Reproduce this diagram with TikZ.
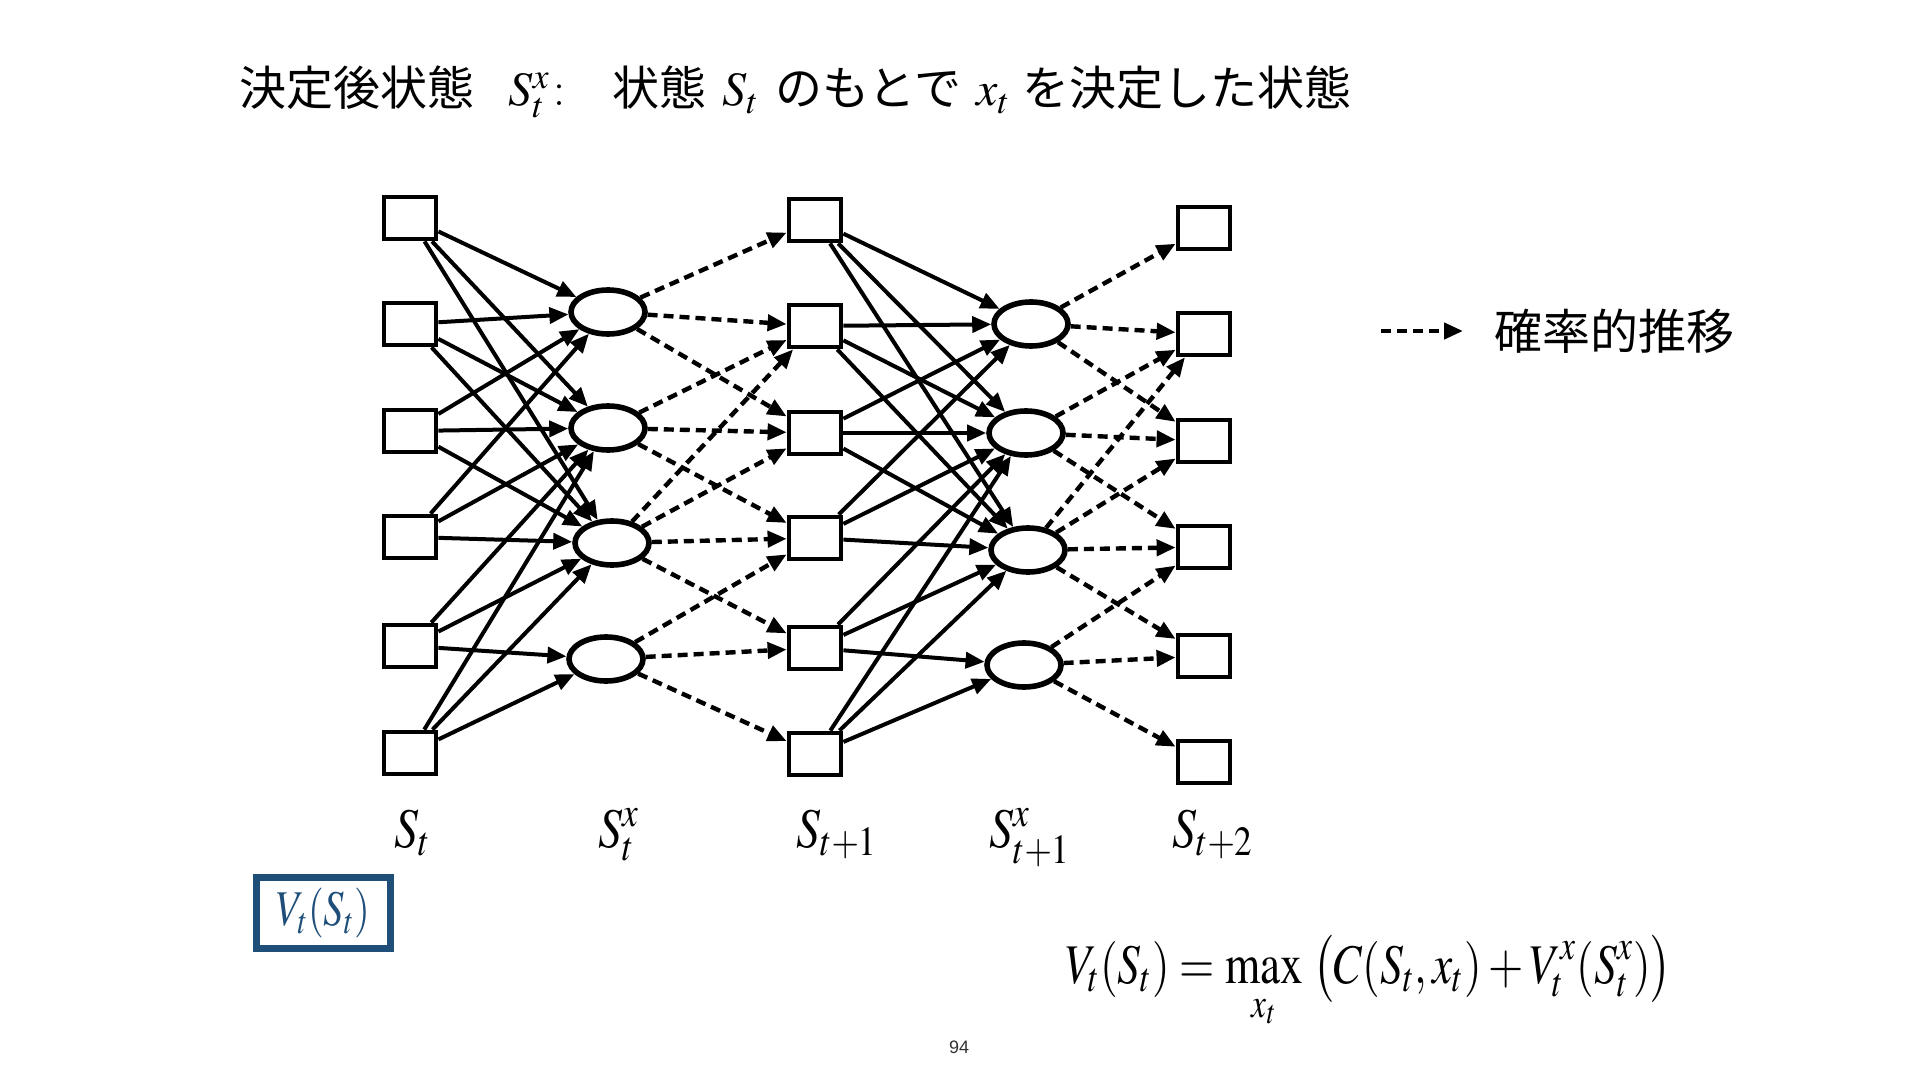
\documentclass[tikz,border=0pt]{standalone}
\usepackage{mathptmx}
\usepackage[no-math]{fontspec}
\newfontfamily\jp{Noto Sans CJK JP}
\newfontfamily\pgnum{Liberation Sans}
\usetikzlibrary{arrows.meta,shapes.geometric}
\definecolor{vblue}{RGB}{31,78,121}
\tikzset{
  sq/.style={draw, line width=2.4pt, minimum width=26pt, minimum height=21pt, inner sep=0pt},
  el/.style={draw, ellipse, line width=2.8pt, minimum width=37pt, minimum height=22pt, inner sep=0pt},
  sarr/.style={line width=2pt, -{Triangle[length=9.5pt,width=8pt]}},
  darr/.style={line width=2.2pt, dash pattern=on 5pt off 3pt, -{Triangle[length=9.5pt,width=8pt]}},
  jptext/.style={font=\jp\fontsize{23.5}{28}\selectfont, inner sep=0pt, anchor=base west},
  mtitle/.style={font=\fontsize{24}{28}\selectfont, inner sep=0pt, anchor=base west},
  lab/.style={font=\fontsize{28}{32}\selectfont, inner sep=0pt, anchor=base west},
}
\newcommand{\myNarrowA}[1]{\scalebox{0.85}[1]{#1}}
\newcommand{\myNarrowB}[1]{\scalebox{0.81}[1]{#1}}
\begin{document}
\begin{tikzpicture}[x=0.5pt,y=-0.5pt]
\useasboundingbox[fill=white] (0,0) rectangle (1920,1080);

% title
\node[jptext] (t1) at (239,106) {決定後状態};
\node[mtitle] (t2) at (508,106) {$S_t^x$\hspace{2pt}:};
\node[jptext] (t3) at (612,106) {状態};
\node[mtitle] (t4) at (722,106) {$S_t$};
\node[jptext] (t5) at (775,106) {のもとで};
\node[mtitle] (t6) at (976,106) {$x_t$};
\node[jptext] (t7) at (1022,106) {を決定した状態};

% column A (S_t)
\foreach \i/\y in {1/218,2/324,3/431,4/537,5/646,6/753}
  \node[sq] (A\i) at (410,\y) {};
% column B (S_t^x)
\node[el] (B1) at (608,312) {};
\node[el] (B2) at (608,428) {};
\node[el] (B3) at (612,543) {};
\node[el] (B4) at (606,659) {};
% column C (S_{t+1})
\foreach \i/\y in {1/220,2/326,3/433,4/538,5/648,6/754}
  \node[sq] (C\i) at (815,\y) {};
% column D (S_{t+1}^x)
\node[el] (D1) at (1031,324) {};
\node[el] (D2) at (1026,433) {};
\node[el] (D3) at (1028,550) {};
\node[el] (D4) at (1024,665) {};
% column E (S_{t+2})
\foreach \i/\y in {1/228,2/334,3/441,4/547,5/656,6/762}
  \node[sq] (E\i) at (1204,\y) {};

% decisions (solid)
\foreach \s/\t in {1/1,1/2,1/3,2/1,2/2,2/3,3/1,3/2,3/3,4/1,4/2,4/3,5/2,5/3,5/4,6/2,6/3,6/4}{
  \draw[sarr] (A\s) -- (B\t);
  \draw[sarr] (C\s) -- (D\t);
}
% stochastic transitions (dashed)
\foreach \s/\t in {1/1,1/2,1/3,2/2,2/3,2/4,3/2,3/3,3/4,3/5,4/4,4/5,4/6}{
  \draw[darr] (B\s) -- (C\t);
  \draw[darr] (D\s) -- (E\t);
}

% column labels
\node[lab] (L1) at (394,847) {\myNarrowA{$S_t$}};
\node[lab] (L2) at (598,847) {\myNarrowA{$S_t^x$}};
\node[lab] (L3) at (796,847) {\myNarrowA{$S_{t+1}$}};
\node[lab] (L4) at (989,847) {\myNarrowA{$S_{t+1}^x$}};
\node[lab] (L5) at (1172,847) {\myNarrowA{$S_{t+2}$}};

% legend
\coordinate (g1) at (1381,331);
\coordinate (g2) at (1463,331);
\draw[darr] (g1) -- (g2);
\node[font=\jp\fontsize{24}{28}\selectfont, inner sep=0pt, anchor=west] (gt) at (1494,331) {確率的推移};

% boxed value function
\node[draw=vblue, line width=3.5pt, minimum width=67pt, minimum height=35.5pt, inner sep=0pt,
      text=vblue, font=\fontsize{25}{28}\selectfont] (vb) at (323.5,913) {\myNarrowB{$V_t(S_t)$}};

% Bellman equation
\node[lab] (eq) at (1065,983)
  {\myNarrowB{$\displaystyle V_t(S_t) = \max\limits_{x_t}\;\bigl(C(S_t, x_t) + V_t^x(S_t^x)\bigr)$}};

% page number
\node[font=\pgnum\fontsize{9}{10}\selectfont, text=black!80, inner sep=0pt] (pg) at (959,1047) {94};
\end{tikzpicture}
\end{document}
